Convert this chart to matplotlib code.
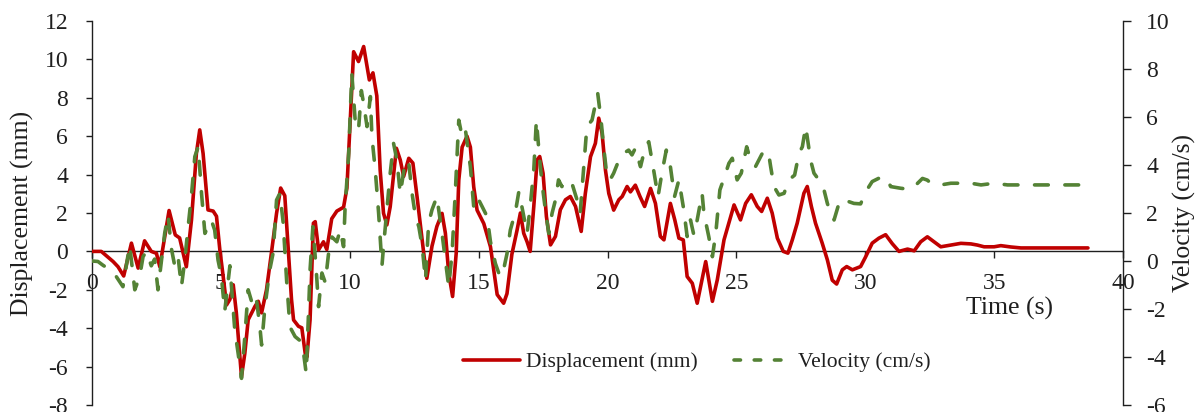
import matplotlib
matplotlib.use("Agg")
import matplotlib.pyplot as plt
from matplotlib.lines import Line2D

plt.rcParams["font.family"] = ["Liberation Serif", "DejaVu Serif"]
plt.rcParams["axes.unicode_minus"] = False

# displacement record (mm) against time (s)
disp_t = [0.0, 0.36, 0.82, 1.01, 1.23, 1.53, 1.79, 2.04, 2.30, 2.50, 2.63, 2.99, 3.23, 3.40,
          3.66, 3.86, 4.05, 4.18, 4.31, 4.50, 4.70, 4.83, 4.96, 5.09, 5.22, 5.35, 5.48, 5.60,
          5.80, 5.93, 6.06, 6.32, 6.45, 6.58, 6.77, 6.96, 7.16, 7.32, 7.48, 7.60, 7.74, 7.82,
          8.01, 8.14, 8.27, 8.34, 8.46, 8.59, 8.66, 8.79, 8.98, 9.11, 9.30, 9.50, 9.76, 9.89,
          10.02, 10.15, 10.34, 10.54, 10.76, 10.90, 11.05, 11.18, 11.31, 11.44, 11.57, 11.81,
          11.96, 12.09, 12.29, 12.45, 12.61, 12.87, 12.99, 13.19, 13.38, 13.58, 13.71, 13.84,
          13.99, 14.13, 14.23, 14.36, 14.55, 14.68, 14.81, 14.94, 15.20, 15.46, 15.72, 15.97,
          16.10, 16.29, 16.49, 16.62, 16.75, 16.88, 17.00, 17.14, 17.27, 17.37, 17.50, 17.63,
          17.79, 17.98, 18.17, 18.37, 18.56, 18.76, 18.98, 19.14, 19.34, 19.53, 19.66, 19.79,
          19.92, 20.05, 20.24, 20.44, 20.57, 20.76, 20.89, 21.08, 21.26, 21.44, 21.67, 21.86,
          22.05, 22.19, 22.44, 22.61, 22.77, 22.94, 23.09, 23.29, 23.48, 23.81, 24.07, 24.26,
          24.52, 24.91, 25.16, 25.36, 25.58, 25.81, 25.98, 26.20, 26.39, 26.59, 26.82, 27.00,
          27.17, 27.36, 27.62, 27.75, 27.91, 28.07, 28.33, 28.53, 28.72, 28.89, 29.11, 29.28,
          29.50, 29.82, 30.02, 30.27, 30.53, 30.79, 31.05, 31.31, 31.64, 31.90, 32.15, 32.41,
          32.67, 32.93, 33.32, 33.71, 34.10, 34.35, 34.61, 35.00, 35.26, 35.65, 36.04, 38.64]
disp_mm = [0.0, 0.0, -0.53, -0.8, -1.28, 0.43, -0.87, 0.55, 0.0, -0.1, -0.8, 2.13, 0.86, 0.7,
           -0.8, 1.64, 5.1, 6.33, 5.1, 2.16, 2.1, 1.83, 0.08, -1.31, -2.79, -2.5, -1.74, -3.2,
           -6.52, -5.3, -3.56, -2.87, -2.6, -3.2, -2.0, -0.09, 1.98, 3.3, 2.9, 0.43, -2.5, -3.57,
           -3.9, -3.98, -5.3, -5.5, -3.57, 1.47, 1.55, 0.08, 0.5, 0.1, 1.7, 2.1, 2.3, 3.3,
           6.85, 10.4, 9.89, 10.67, 8.93, 9.3, 8.1, 4.24, 1.99, 1.38, 2.33, 5.37,
           4.76, 3.9, 4.85, 4.6, 2.86, -0.09, -1.4, 0.27, 1.3, 1.98, 0.95, -1.14,
           -2.35, -0.1, 3.71, 5.43, 6.0, 5.43, 3.36, 2.15, 1.45, 0.24, -2.25, -2.7,
           -2.2, -0.15, 1.1, 2.0, 0.94, 0.5, 0.0, 2.34, 4.77, 4.94, 4.07, 1.81,
           0.34, 0.78, 2.17, 2.69, 2.86, 2.34, 1.04, 3.02, 4.93, 5.63, 6.94, 6.15,
           4.24, 3.02, 2.15, 2.69, 2.86, 3.38, 3.1, 3.45, 2.86, 2.34, 3.28, 2.5,
           0.78, 0.6, 2.5, 1.64, 0.69, 0.6, -1.31, -1.66, -2.7, -0.53, -2.6, -1.48,
           0.6, 2.42, 1.64, 2.5, 2.95, 2.34, 2.08, 2.77, 1.99, 0.69, 0.0, -0.09,
           0.6, 1.47, 3.03, 3.38, 2.34, 1.47, 0.43, -0.44, -1.5, -1.7, -0.96, -0.79,
           -0.96, -0.79, -0.27, 0.43, 0.69, 0.87, 0.4, 0.0, 0.12, 0.03, 0.5, 0.76,
           0.5, 0.24, 0.33, 0.42, 0.39, 0.33, 0.24, 0.24, 0.3, 0.23, 0.18, 0.18]

# velocity record (cm/s) against time (s)
vel_t = [0.0, 0.23, 0.43, 0.82, 1.20, 1.46, 1.66, 1.85, 1.98, 2.11, 2.30, 2.43, 2.56, 2.67,
         2.82, 2.95, 3.08, 3.21, 3.34, 3.47, 3.60, 3.73, 3.86, 3.99, 4.12, 4.25, 4.38, 4.50,
         4.63, 4.76, 4.89, 5.02, 5.15, 5.35, 5.54, 5.67, 5.80, 5.93, 6.06, 6.25, 6.38, 6.51,
         6.58, 6.71, 6.90, 7.03, 7.16, 7.29, 7.42, 7.55, 7.68, 7.88, 8.05, 8.21, 8.31, 8.40,
         8.46, 8.57, 8.70, 8.79, 8.92, 9.05, 9.18, 9.31, 9.50, 9.63, 9.76, 9.82, 9.96, 10.08,
         10.21, 10.34, 10.45, 10.54, 10.67, 10.80, 10.86, 10.99, 11.12, 11.18, 11.25, 11.31,
         11.44, 11.57, 11.70, 11.83, 11.96, 12.16, 12.29, 12.42, 12.55, 12.68, 12.81, 12.94,
         13.06, 13.19, 13.38, 13.58, 13.71, 13.84, 13.97, 14.10, 14.23, 14.36, 14.49, 14.68,
         14.81, 14.94, 15.14, 15.33, 15.46, 15.65, 15.78, 15.91, 16.10, 16.23, 16.43, 16.56,
         16.69, 16.88, 17.00, 17.14, 17.24, 17.37, 17.46, 17.59, 17.72, 17.85, 17.98, 18.10,
         18.23, 18.43, 18.62, 18.82, 18.94, 19.05, 19.20, 19.40, 19.62, 19.75, 19.85, 19.98,
         20.10, 20.24, 20.44, 20.63, 20.82, 20.95, 21.08, 21.28, 21.47, 21.60, 21.79, 21.96,
         22.11, 22.28, 22.44, 22.60, 22.77, 22.96, 23.09, 23.22, 23.35, 23.48, 23.67, 23.74,
         23.93, 24.07, 24.20, 24.36, 24.52, 24.71, 24.84, 25.03, 25.19, 25.40, 25.55, 25.74,
         25.94, 26.07, 26.26, 26.33, 26.46, 26.65, 26.85, 27.04, 27.26, 27.43, 27.56, 27.69,
         27.82, 27.88, 28.01, 28.20, 28.40, 28.53, 28.66, 28.79, 28.98, 29.17, 29.37, 29.56,
         29.82, 30.02, 30.27, 30.53, 30.79, 30.99, 31.38, 31.70, 31.90, 32.22, 32.41, 32.54,
         32.93, 33.32, 33.71, 34.10, 34.49, 35.00, 35.52, 36.17, 38.64]
vel_cms = [0.0, -0.02, -0.18, -0.45, -1.07, 0.66, -1.2, -0.65, 0.18, 0.4, -0.2, 0.08, -1.2, -0.2,
           1.15, 1.92, 0.52, -0.2, 0.18, -1.07, 0.04, 1.43, 2.75, 4.35, 4.76, 2.81, 1.15, 1.43,
           1.7, 1.29, 0.04, -0.65, -2.1, -0.2, -2.875, -3.85, -4.89, -3.15, -1.2, -1.9, -1.6, -2.7,
           -3.5, -1.9, -0.35, 0.35, 2.54, 2.82, 1.57, -0.8, -2.75, -3.15, -3.3, -3.85, -4.68, -2.17,
           -0.375, 1.43, -0.375, -1.9, -0.5, -0.9, 0.33, 1.0, 0.8, 1.3, 0.6, 2.25, 4.49, 7.82,
           5.87, 5.45, 7.1, 6.56, 5.6, 6.85, 5.18, 3.79, 2.0, 1.0, -0.2, 0.6,
           2.13, 3.66, 4.9, 4.2, 2.8, 4.2, 4.07, 2.8, 1.85, 1.43, 0.6, -0.8,
           1.57, 2.13, 2.68, 1.15, 0.04, -1.07, 0.33, 2.96, 5.87, 5.18, 5.45, 3.93,
           2.26, 2.68, 2.26, 1.85, 0.8, -0.1, -0.5, -0.65, 0.3, 1.29, 2.06, 2.89,
           2.2, 1.15, 2.26, 3.79, 5.87, 4.2, 3.24, 2.13, 1.15, 1.99, 2.54, 3.38,
           3.1, 3.38, 3.24, 2.54, 1.99, 3.52, 5.6, 5.87, 6.99, 5.87, 4.76, 3.52,
           3.38, 3.66, 4.2, 4.49, 4.62, 4.42, 4.7, 3.93, 4.76, 4.97, 3.79, 2.68,
           3.66, 4.62, 3.93, 2.68, 3.38, 2.13, 1.02, 1.71, 1.08, 1.71, 2.82, 1.99,
           1.01, 0.18, 1.15, 2.96, 3.45, 4.07, 4.28, 3.38, 3.66, 4.76, 4.2, 3.93,
           4.35, 4.62, 4.42, 3.93, 3.1, 2.75, 2.82, 3.38, 3.58, 4.49, 4.76, 5.6,
           4.62, 4.2, 3.66, 3.38, 2.96, 2.4, 1.99, 1.71, 2.4, 2.6, 2.47, 2.4,
           2.38, 2.89, 3.31, 3.45, 3.5, 3.1, 3.03, 2.99, 3.1, 3.44, 3.37, 3.24,
           3.17, 3.24, 3.24, 3.24, 3.17, 3.24, 3.17, 3.17, 3.17]

x_ticks = list(range(0, 41, 5))
disp_ticks = list(range(-8, 13, 2))
vel_ticks = list(range(-6, 11, 2))

RED = "#C00000"
GREEN = "#548235"
INK = "#1f1f1f"
LW = 2.6
W, H = 1202, 412

fig = plt.figure(figsize=(W / 100, H / 100), dpi=100)
ax = fig.add_axes([92 / W, 1 - 405 / H, (1123 - 92) / W, 384 / H])
ax2 = ax.twinx()

ax.plot(disp_t, disp_mm, color=RED, lw=LW, solid_capstyle="round",
        solid_joinstyle="round", zorder=3)
ax2.plot(vel_t, vel_cms, color=GREEN, lw=LW, dashes=(3.8, 4.6),
         dash_capstyle="round", dash_joinstyle="round", zorder=3)

ax.set_xlim(0, 40)
ax.set_ylim(-8, 12)
ax2.set_ylim(-6, 10)
ax.set_xticks(x_ticks)
ax.set_yticks(disp_ticks)
ax2.set_yticks(vel_ticks)

# x axis sits on the displacement zero line
ax.spines["bottom"].set_position(("data", 0))
ax.spines["top"].set_visible(False)
ax.spines["right"].set_visible(False)
for side in ("top", "bottom", "left"):
    ax2.spines[side].set_visible(False)
for sp in (ax.spines["bottom"], ax.spines["left"], ax2.spines["right"]):
    sp.set_color(INK)
    sp.set_linewidth(1.0)

ax.tick_params(axis="x", direction="out", length=4.8, width=1.0, pad=10.5,
               labelsize=17, colors=INK)
ax.tick_params(axis="y", direction="out", length=4.2, width=1.0, pad=13,
               labelsize=17, colors=INK)
ax2.tick_params(axis="y", direction="out", length=5.8, width=1.0, pad=11,
                labelsize=17, colors=INK)

ax.set_ylabel("Displacement (mm)", fontsize=18.5, color=INK, va="center")
ax.yaxis.set_label_coords(-0.067, 0.5)
ax2.set_ylabel("Velocity (cm/s)", fontsize=18.5, color=INK, va="center")
ax2.yaxis.set_label_coords(1.060, 0.5)
ax.set_xlabel("Time (s)", fontsize=18.5, color=INK, va="center")
ax.xaxis.set_label_coords(0.890, 0.2526)

handles = [Line2D([], [], color=RED, lw=LW, solid_capstyle="round"),
           Line2D([], [], color=GREEN, lw=LW, dashes=(1.8, 3.8), dash_capstyle="round")]
ax2.legend(handles, ["Displacement (mm)", "Velocity (cm/s)"], loc="center",
           bbox_to_anchor=(696.5 / W, 1 - 362 / H), bbox_transform=fig.transFigure,
           ncol=2, frameon=False, fontsize=15.5, handlelength=2.65, handletextpad=0.3,
           columnspacing=1.7, labelcolor=INK)

fig.savefig("out.png", dpi=100)
